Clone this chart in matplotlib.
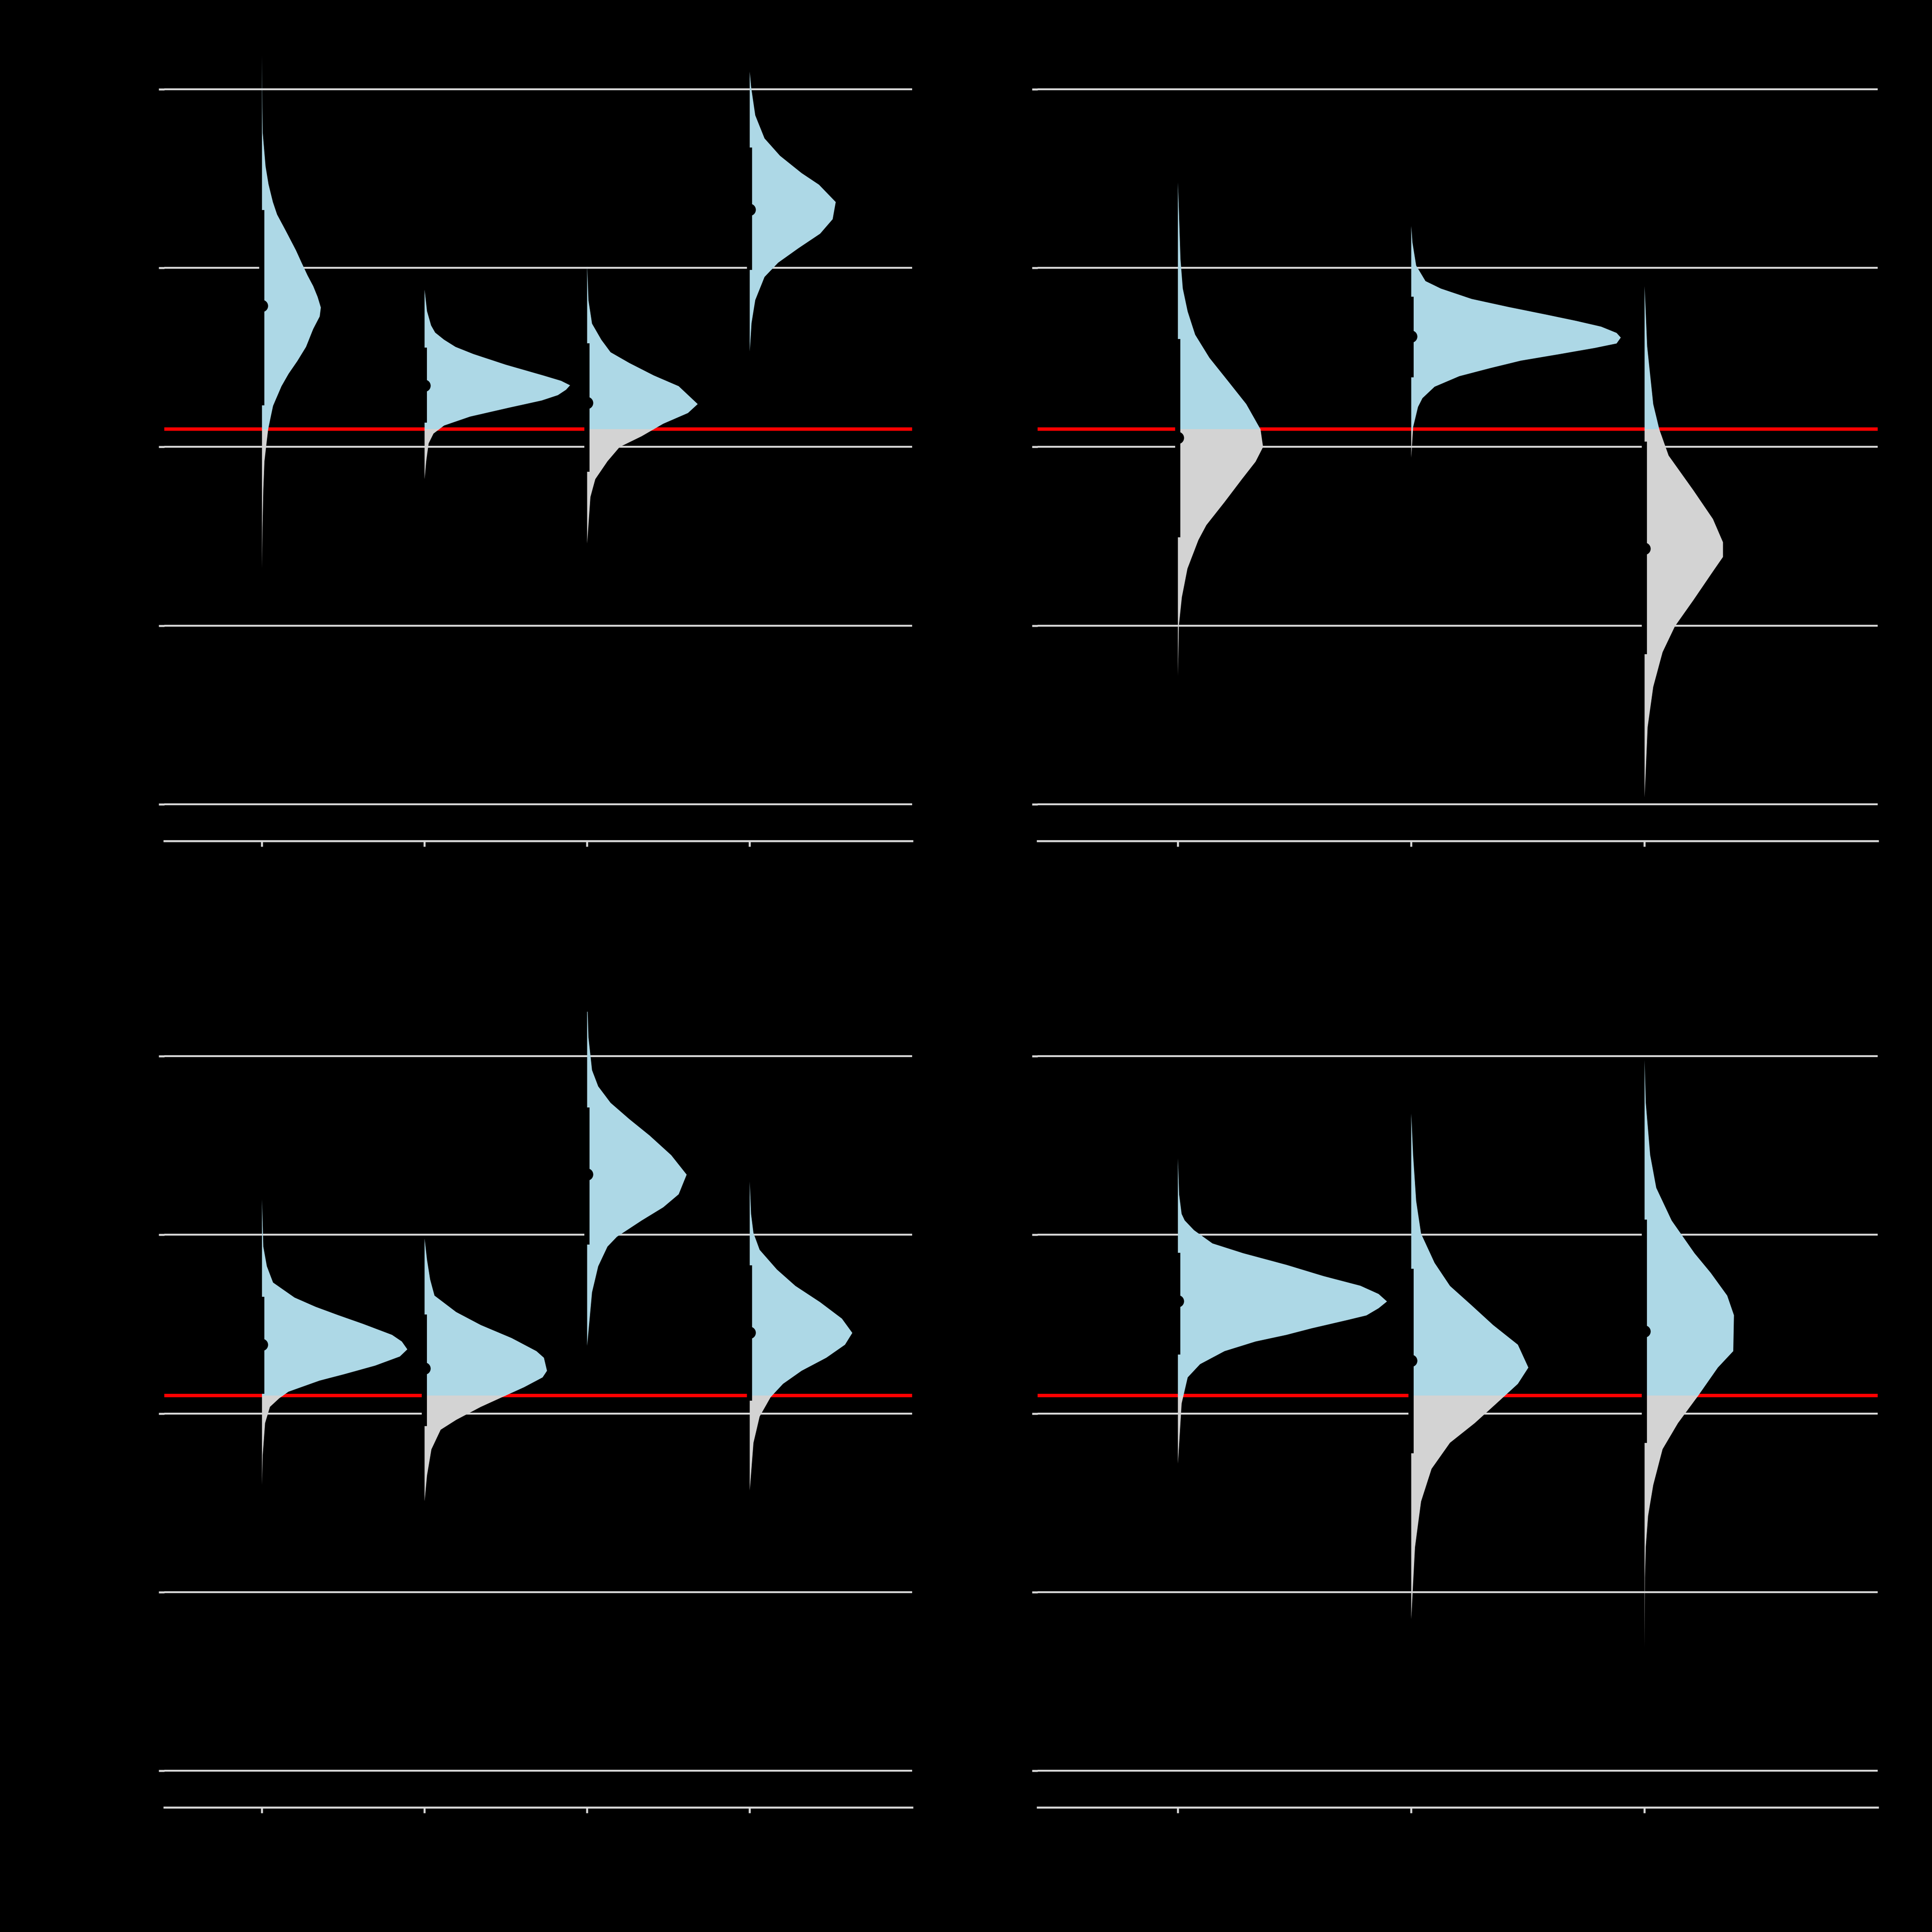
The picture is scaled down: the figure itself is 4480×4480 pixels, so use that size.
import matplotlib
matplotlib.use("Agg")
import matplotlib.pyplot as plt
from matplotlib.patches import Rectangle
import numpy as np

# Umbral (línea roja) y colores
threshold = 0.1
col_above = "#add8e6"   # lightblue
col_below = "#d3d3d3"   # lightgrey
grid_col = "#d9d9d9"

# ---------------- Panel superior izquierdo (4 grupos) ----------------
tl_y1 = [2.19, 1.90, 1.76, 1.57, 1.47, 1.37, 1.30, 1.21, 1.10, 1.03, 0.96, 0.90, 0.84, 0.78,
         0.73, 0.66, 0.56, 0.48, 0.41, 0.34, 0.23, 0.10, -0.08, -0.24, -0.45, -0.68]
tl_w1 = [0.0, 0.002, 0.004, 0.022, 0.040, 0.067, 0.093, 0.146, 0.209, 0.244, 0.280, 0.315, 0.342, 0.362,
         0.355, 0.315, 0.271, 0.217, 0.164, 0.12, 0.068, 0.038, 0.015, 0.008, 0.003, 0.0]
tl_y2 = [0.88, 0.76, 0.68, 0.64, 0.60, 0.56, 0.52, 0.46, 0.40, 0.37, 0.345, 0.32, 0.29, 0.26,
         0.22, 0.17, 0.12, 0.075, 0.02, -0.08, -0.18]
tl_w2 = [0.0, 0.015, 0.04, 0.065, 0.12, 0.19, 0.30, 0.50, 0.73, 0.84, 0.895, 0.87, 0.82, 0.72,
         0.52, 0.28, 0.12, 0.055, 0.025, 0.01, 0.0]
tl_y3 = [1.015, 0.82, 0.69, 0.60, 0.53, 0.47, 0.40, 0.34, 0.24, 0.19, 0.13, 0.06, 0.0, -0.08, -0.18, -0.28, -0.54]
tl_w3 = [0.0, 0.008, 0.03, 0.087, 0.144, 0.259, 0.41, 0.563, 0.68, 0.62, 0.468, 0.335, 0.2, 0.125, 0.05, 0.02, 0.0]
tl_y4 = [2.10, 2.016, 1.855, 1.726, 1.629, 1.532, 1.467, 1.37, 1.274, 1.193, 1.112, 1.031, 0.951, 0.822, 0.693, 0.534]
tl_w4 = [0.0, 0.008, 0.034, 0.091, 0.186, 0.319, 0.426, 0.529, 0.51, 0.433, 0.30, 0.175, 0.091, 0.034, 0.011, 0.0]
tl_lo = [0.231, 0.134, -0.14, 0.99]
tl_hi = [1.325, 0.554, 0.58, 1.675]
tl_med = [0.789, 0.342, 0.247, 1.327]

# ---------------- Panel superior derecho (3 grupos) ----------------
tr_y1 = [1.48, 1.05, 0.886, 0.757, 0.628, 0.499, 0.37, 0.24, 0.099, 0.0, -0.082, -0.179, -0.308,
         -0.437, -0.52, -0.68, -0.84, -1.0, -1.28]
tr_w1 = [0.0, 0.011, 0.021, 0.042, 0.074, 0.135, 0.214, 0.293, 0.354, 0.365, 0.333, 0.275, 0.2,
         0.122, 0.088, 0.041, 0.017, 0.004, 0.0]
tr_y2 = [1.236, 1.145, 1.015, 0.928, 0.886, 0.828, 0.783, 0.741, 0.705, 0.673, 0.638, 0.612, 0.579,
         0.554, 0.518, 0.483, 0.441, 0.396, 0.337, 0.273, 0.224, 0.111, -0.06]
tr_w2 = [0.0, 0.005, 0.021, 0.061, 0.127, 0.259, 0.417, 0.576, 0.708, 0.814, 0.88, 0.898, 0.88,
         0.787, 0.629, 0.47, 0.338, 0.206, 0.1, 0.048, 0.029, 0.008, 0.0]
tr_y3 = [0.90, 0.563, 0.24, 0.099, -0.048, -0.242, -0.403, -0.533, -0.615, -0.696, -0.857, -1.003,
         -1.148, -1.342, -1.567, -1.96]
tr_w3 = [0.0, 0.011, 0.037, 0.063, 0.103, 0.209, 0.293, 0.336, 0.336, 0.293, 0.209, 0.13,
         0.077, 0.037, 0.013, 0.0]
tr_lo = [-0.507, 0.388, -1.16]
tr_hi = [0.603, 0.84, 0.03]
tr_med = [0.05, 0.617, -0.57]

# ---------------- Panel inferior izquierdo (4 grupos) ----------------
bl_y1 = [1.20, 0.935, 0.825, 0.734, 0.65, 0.598, 0.551, 0.503, 0.441, 0.404, 0.36, 0.32, 0.269,
         0.221, 0.185, 0.148, 0.123, 0.086, 0.038, -0.053, -0.236, -0.40]
bl_w1 = [0.0, 0.008, 0.03, 0.068, 0.2, 0.33, 0.47, 0.62, 0.80, 0.86, 0.894, 0.848, 0.696,
         0.506, 0.354, 0.24, 0.163, 0.106, 0.049, 0.019, 0.004, 0.0]
bl_y2 = [0.98, 0.862, 0.752, 0.661, 0.569, 0.496, 0.423, 0.35, 0.313, 0.24, 0.203, 0.148, 0.101,
         0.038, -0.035, -0.09, -0.2, -0.346, -0.49]
bl_w2 = [0.0, 0.015, 0.034, 0.061, 0.194, 0.346, 0.536, 0.688, 0.734, 0.753, 0.726, 0.612, 0.498,
         0.346, 0.194, 0.099, 0.042, 0.015, 0.0]
bl_y3 = [2.25, 2.106, 1.923, 1.832, 1.74, 1.649, 1.557, 1.447, 1.338, 1.228, 1.155, 1.081, 0.99,
         0.935, 0.825, 0.679, 0.38]
bl_w3 = [0.003, 0.008, 0.03, 0.068, 0.144, 0.259, 0.384, 0.517, 0.612, 0.563, 0.468, 0.335, 0.183,
         0.125, 0.068, 0.03, 0.0]
bl_y4 = [1.30, 1.118, 1.011, 0.917, 0.807, 0.715, 0.624, 0.532, 0.452, 0.386, 0.313, 0.24, 0.167,
         0.093, -0.016, -0.163, -0.43]
bl_w4 = [0.0, 0.008, 0.023, 0.061, 0.167, 0.281, 0.433, 0.567, 0.631, 0.586, 0.471, 0.319, 0.205,
         0.129, 0.061, 0.023, 0.0]
bl_lo = [0.11, -0.07, 0.945, 0.072]
bl_hi = [0.652, 0.555, 1.714, 0.83]
bl_med = [0.384, 0.253, 1.338, 0.453]

# ---------------- Panel inferior derecho (3 grupos) ----------------
br_y1 = [1.43, 1.228, 1.118, 1.082, 1.027, 0.953, 0.898, 0.833, 0.77, 0.716, 0.67, 0.628, 0.59,
         0.55, 0.525, 0.477, 0.441, 0.404, 0.35, 0.277, 0.203, 0.057, -0.28]
br_w1 = [0.0, 0.005, 0.016, 0.029, 0.069, 0.148, 0.28, 0.465, 0.624, 0.782, 0.86, 0.896, 0.86,
         0.808, 0.729, 0.571, 0.465, 0.333, 0.2, 0.095, 0.042, 0.016, 0.0]
br_y2 = [1.68, 1.447, 1.191, 1.008, 0.844, 0.715, 0.606, 0.496, 0.386, 0.258, 0.167, 0.057, -0.053,
         -0.163, -0.309, -0.492, -0.748, -1.15]
br_w2 = [0.0, 0.008, 0.021, 0.042, 0.1, 0.166, 0.259, 0.351, 0.457, 0.502, 0.457, 0.365, 0.272,
         0.166, 0.087, 0.042, 0.016, 0.0]
br_y3 = [1.98, 1.74, 1.447, 1.264, 1.081, 0.898, 0.789, 0.661, 0.551, 0.35, 0.258, 0.101, -0.053,
         -0.199, -0.40, -0.572, -0.745, -0.917, -1.31]
br_w3 = [0.0, 0.005, 0.024, 0.05, 0.116, 0.214, 0.283, 0.354, 0.383, 0.38, 0.314, 0.23, 0.143,
         0.077, 0.037, 0.015, 0.005, 0.0015, 0.0]
br_lo = [0.33, -0.223, -0.165]
br_hi = [0.90, 0.81, 1.086]
br_med = [0.628, 0.296, 0.46]

panels = [
    ([0.0850, 0.5647, 0.3871, 0.4081], (0.4, 5.0),
     [(tl_y1, tl_w1), (tl_y2, tl_w2), (tl_y3, tl_w3), (tl_y4, tl_w4)], tl_lo, tl_hi, tl_med),
    ([0.5371, 0.5647, 0.4348, 0.4081], (0.4, 4.0),
     [(tr_y1, tr_w1), (tr_y2, tr_w2), (tr_y3, tr_w3)], tr_lo, tr_hi, tr_med),
    ([0.0850, 0.0645, 0.3871, 0.4078], (0.4, 5.0),
     [(bl_y1, bl_w1), (bl_y2, bl_w2), (bl_y3, bl_w3), (bl_y4, bl_w4)], bl_lo, bl_hi, bl_med),
    ([0.5371, 0.0645, 0.4348, 0.4078], (0.4, 4.0),
     [(br_y1, br_w1), (br_y2, br_w2), (br_y3, br_w3)], br_lo, br_hi, br_med),
]

fig = plt.figure(figsize=(4480 / 300, 4480 / 300), dpi=300, facecolor="black")

for rect, xlim, slabs, lo, hi, med in panels:
    ax = fig.add_axes(rect)
    ax.set_facecolor("black")
    ax.set_xlim(*xlim)
    ax.set_ylim(-2.205, 2.205)
    ax.set_axisbelow(True)
    ax.grid(axis="y", color=grid_col, linewidth=1.05)
    ax.set_yticks([-2, -1, 0, 1, 2])
    ax.set_xticks(np.arange(1, len(slabs) + 1))
    ax.tick_params(colors=grid_col, length=3.2, width=1.1, labelleft=False, labelbottom=False)
    for side in ["top", "right", "left"]:
        ax.spines[side].set_visible(False)
    ax.spines["bottom"].set_color(grid_col)
    ax.spines["bottom"].set_linewidth(1.1)

    ax.axhline(threshold, color="red", linewidth=1.9, zorder=1.5)

    for i, (ys, ws) in enumerate(slabs):
        x0 = i + 1
        ys = np.array(ys)
        ws = np.array(ws)
        for col, clip_y in [(col_above, threshold), (col_below, threshold - 10)]:
            poly = ax.fill_betweenx(ys, x0, x0 + ws, color=col, linewidth=0, zorder=2)
            clip = Rectangle((-10, clip_y), 30, 10, transform=ax.transData)
            poly.set_clip_path(clip)
        ax.plot([x0, x0], [lo[i], hi[i]], color="black", linewidth=2.9,
                solid_capstyle="butt", zorder=3)
        ax.plot(x0, med[i], "o", color="black", markersize=6.8, markeredgewidth=0, zorder=4)

fig.savefig("out.png", dpi=300, facecolor="black")
